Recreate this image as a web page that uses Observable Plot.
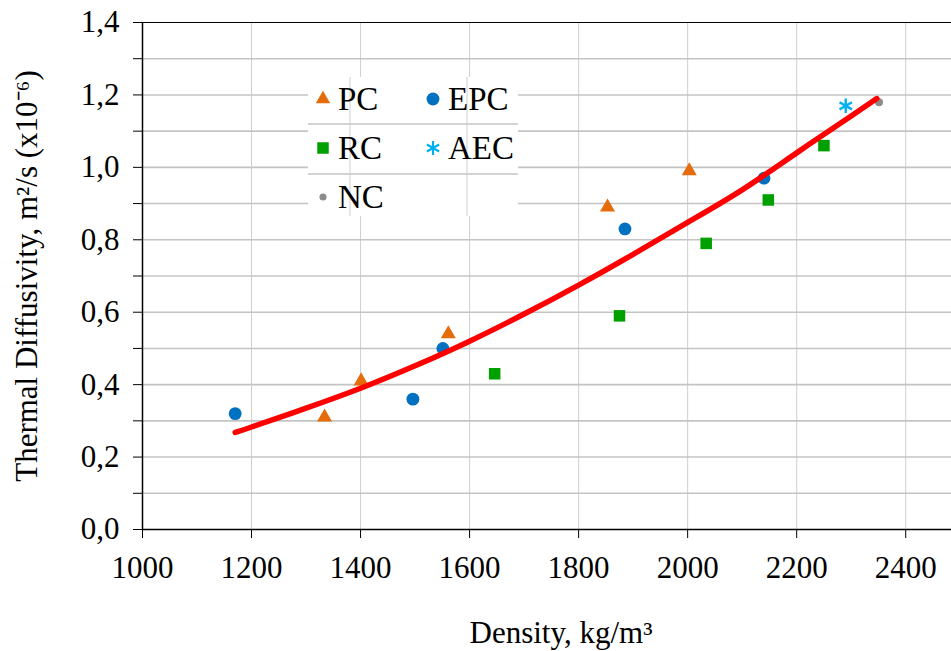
<!DOCTYPE html>
<html>
<head>
<meta charset="utf-8">
<script src="https://cdn.jsdelivr.net/npm/d3@7"></script>
<script src="https://cdn.jsdelivr.net/npm/@observablehq/plot@0.6"></script>
<style>
  html, body { margin: 0; padding: 0; background: #fff; }
  #chart { width: 951px; height: 651px; }
</style>
</head>
<body>
<div id="chart"></div>
<script>
// ---- Data ----
const pcX  = [1334, 1401, 1561, 1853, 2003];
const pcY  = [0.31, 0.41, 0.54, 0.89, 0.99];
const epcX = [1170, 1496, 1551, 1885, 2140];
const epcY = [0.32, 0.36, 0.50, 0.83, 0.97];
const rcX  = [1646, 1875, 2034, 2148, 2250];
const rcY  = [0.43, 0.59, 0.79, 0.91, 1.06];
const aecX = [2290];
const aecY = [1.17];
const ncX  = [2351];
const ncY  = [1.18];

// Trend line
const trendX = [1170, 1200, 1300, 1400, 1500, 1600, 1700, 1800, 1900, 2000, 2100, 2200, 2300, 2347];
const trendY = [0.268, 0.283, 0.335, 0.390, 0.452, 0.520, 0.595, 0.675, 0.760, 0.848, 0.938, 1.040, 1.142, 1.190];

const xTicks = [1000, 1200, 1400, 1600, 1800, 2000, 2200, 2400];
const xGrid  = [1200, 1400, 1600, 1800, 2000, 2200, 2400];
const yTicks = [0, 0.1, 0.2, 0.3, 0.4, 0.5, 0.6, 0.7, 0.8, 0.9, 1.0, 1.1, 1.2, 1.3, 1.4];
const yGrid  = [0.1, 0.2, 0.3, 0.4, 0.5, 0.6, 0.7, 0.8, 0.9, 1.0, 1.1, 1.2, 1.3];

const seriesNames  = ["PC", "EPC", "RC", "AEC", "NC"];
const seriesColors = ["#E46C0A", "#0070C0", "#00A000", "#00B0F0", "#8C8C8C"];

const xLabel = "Density, kg/m³";
const yLabel = "Thermal Diffusivity, m²/s (x10⁻⁶)";

// ---- Build tables ----
const zip = (xs, ys) => xs.map((x, i) => ({x, y: ys[i]}));
const pc = zip(pcX, pcY), epc = zip(epcX, epcY), rc = zip(rcX, rcY),
      aec = zip(aecX, aecY), nc = zip(ncX, ncY), trend = zip(trendX, trendY);

const fmtY = d => (Math.round(d * 10) % 2 === 0) ? d3.format(".1f")(d).replace(".", ",") : "";

const FONT = "'Liberation Serif', 'Times New Roman', serif";

const svg = Plot.plot({
  width: 951,
  height: 651,
  marginLeft: 142,
  marginRight: 0,
  marginTop: 22,
  marginBottom: 122,
  style: {fontFamily: FONT, fontSize: "31px", color: "#000", background: "#fff", overflow: "visible"},
  x: {domain: [1000, 2484]},
  y: {domain: [0, 1.4]},
  marks: [
    Plot.gridX(xGrid, {stroke: "#cfcfcf", strokeOpacity: 1, strokeWidth: 1}),
    Plot.gridY(yGrid, {stroke: "#c4c4c4", strokeOpacity: 1, strokeWidth: 1.6}),
    Plot.ruleY([1.4], {stroke: "#000", strokeWidth: 1}),
    Plot.axisX({ticks: xTicks, tickSize: 9, tickPadding: 17, tickFormat: d => String(d),
                label: null, fontSize: 31}),
    Plot.axisY({ticks: yTicks, tickSize: 9, tickPadding: 14, tickFormat: fmtY,
                label: yLabel, labelAnchor: "center", labelArrow: "none", labelOffset: 128,
                fontSize: 31}),
    Plot.text([xLabel], {frameAnchor: "bottom", dx: 14, dy: 104, lineAnchor: "middle", fontSize: 31, fill: "#000"}),
    Plot.ruleX([1000], {stroke: "#000", strokeWidth: 1.5}),
    Plot.ruleY([0], {stroke: "#000", strokeWidth: 1.5}),
    Plot.dot(nc,  {x: "x", y: "y", r: 4, fill: seriesColors[4], symbol: "circle"}),
    Plot.dot(rc,  {x: "x", y: "y", r: 6.5, fill: seriesColors[2], symbol: "square"}),
    Plot.dot(pc,  {x: "x", y: "y", r: 5.6, fill: seriesColors[0], symbol: "triangle"}),
    Plot.dot(epc, {x: "x", y: "y", r: 6.4, fill: seriesColors[1], symbol: "circle"}),
    Plot.dot(aec, {x: "x", y: "y", r: 6.8, stroke: seriesColors[3], strokeWidth: 2.4, symbol: "asterisk"}),
    Plot.line(trend, {x: "x", y: "y", stroke: "#FF0000", strokeWidth: 5.5, curve: "natural", strokeLinecap: "round"})
  ]
});

// ---- Legend (inside the plot area, as in the reference) ----
const legendBox = {x: 308, y: 77, w: 210, h: 139};
const legendCols = [323, 433];
const legendRows = [99, 148, 197];
const legendSymbols = [d3.symbolTriangle, d3.symbolCircle, d3.symbolSquare, d3.symbolAsterisk, d3.symbolCircle];
const legendSizes = [90, 130, 132, 140, 40];
const g = d3.select(svg).append("g").attr("class", "legend").attr("text-anchor", "start");
g.append("rect").attr("x", legendBox.x).attr("y", legendBox.y)
  .attr("width", legendBox.w).attr("height", legendBox.h).attr("fill", "#fff");
[124, 174].forEach(yy => g.append("line").attr("x1", legendBox.x).attr("x2", legendBox.x + legendBox.w)
  .attr("y1", yy).attr("y2", yy).attr("stroke", "#c4c4c4").attr("stroke-width", 1.6));
[350, 467].forEach(xx => g.append("line").attr("x1", xx).attr("x2", xx)
  .attr("y1", legendBox.y).attr("y2", legendBox.y + legendBox.h).attr("stroke", "#cfcfcf").attr("stroke-width", 1));
seriesNames.forEach((name, i) => {
  const cx = legendCols[i % 2], cy = legendRows[Math.floor(i / 2)];
  const isStroke = name === "AEC";
  g.append("path")
    .attr("d", d3.symbol(legendSymbols[i], legendSizes[i])())
    .attr("transform", `translate(${cx},${cy})`)
    .attr("fill", isStroke ? "none" : seriesColors[i])
    .attr("stroke", isStroke ? seriesColors[i] : "none")
    .attr("stroke-width", 2.2);
  g.append("text")
    .attr("x", cx + 15).attr("y", cy + 11)
    .attr("text-anchor", "start")
    .attr("font-family", FONT).attr("font-size", 33).attr("fill", "#000")
    .text(name);
});

document.getElementById("chart").appendChild(svg);
</script>
</body>
</html>
